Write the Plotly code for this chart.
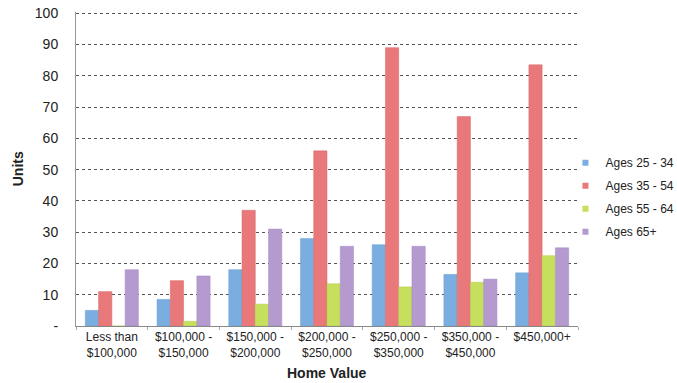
import plotly.graph_objects as go

categories = ["Less than<br>$100,000", "$100,000 -<br>$150,000", "$150,000 -<br>$200,000",
              "$200,000 -<br>$250,000", "$250,000 -<br>$350,000", "$350,000 -<br>$450,000", "$450,000+"]
ages_25_34 = [5, 8.5, 18, 28, 26, 16.5, 17]
ages_35_54 = [11, 14.5, 37, 56, 89, 67, 83.5]
ages_55_64 = [0, 1.5, 7, 13.5, 12.5, 14, 22.5]
ages_65p = [18, 16, 31, 25.5, 25.5, 15, 25]
series_names = ["Ages 25 - 34", "Ages 35 - 54", "Ages 55 - 64", "Ages 65+"]
colors = ["#7aaee0", "#e8787a", "#c6e05e", "#b59ad0"]
line_colors = ["#6a9ed4", "#d8686a", "#b2cc4a", "#a58ac2"]

fig = go.Figure()
for i, (name, vals, c, lc) in enumerate(zip(series_names, [ages_25_34, ages_35_54, ages_55_64, ages_65p], colors, line_colors)):
    fig.add_trace(go.Bar(x=categories, y=vals, name=name, showlegend=False,
                         marker=dict(color=c, line=dict(color=lc, width=0.5))))
for i, (name, c) in enumerate(zip(series_names, colors)):
    fig.add_trace(go.Scatter(x=[None], y=[None], mode="markers", name=name,
                             legendgroup=name,
                             marker=dict(symbol="square", size=6, color=c)))

fig.update_layout(
    width=677, height=383,
    margin=dict(l=76, r=99, t=12, b=57, autoexpand=False),
    paper_bgcolor="white", plot_bgcolor="white",
    barmode="group", bargap=0.26, bargroupgap=0,
    font=dict(family="Liberation Sans, Arial, sans-serif", color="#222"),
    showlegend=True,
    legend=dict(x=0.975, y=0.41, xanchor="left", yanchor="middle",
                font=dict(size=12, color="#222"), tracegroupgap=4,
                itemwidth=30, bgcolor="rgba(0,0,0,0)"),
    xaxis=dict(tickfont=dict(size=12), showgrid=False, automargin=False,
               showline=True, linecolor="#888", linewidth=1,
               ticks="outside", ticklen=3, tickcolor="#aaa", tickson="boundaries"),
    yaxis=dict(range=[0, 100.4], automargin=False,
               tickvals=[0, 10, 20, 30, 40, 50, 60, 70, 80, 90, 100],
               ticktext=["-", "10", "20", "30", "40", "50", "60", "70", "80", "90", "100"],
               tickfont=dict(size=14), showgrid=True, gridcolor="#555", gridwidth=1,
               griddash="dot", zeroline=False, ticklabelstandoff=14,
               showline=True, linecolor="#999", linewidth=1),
    annotations=[
        dict(text="<b>Home Value</b>", xref="paper", yref="paper", x=0.5, y=-0.15,
             xanchor="center", yanchor="middle", showarrow=False, font=dict(size=14)),
        dict(text="<b>Units</b>", xref="paper", yref="paper", x=-0.115, y=0.5,
             xanchor="center", yanchor="middle", showarrow=False, textangle=-90,
             font=dict(size=14)),
    ],
)
fig.write_html("out.html")
